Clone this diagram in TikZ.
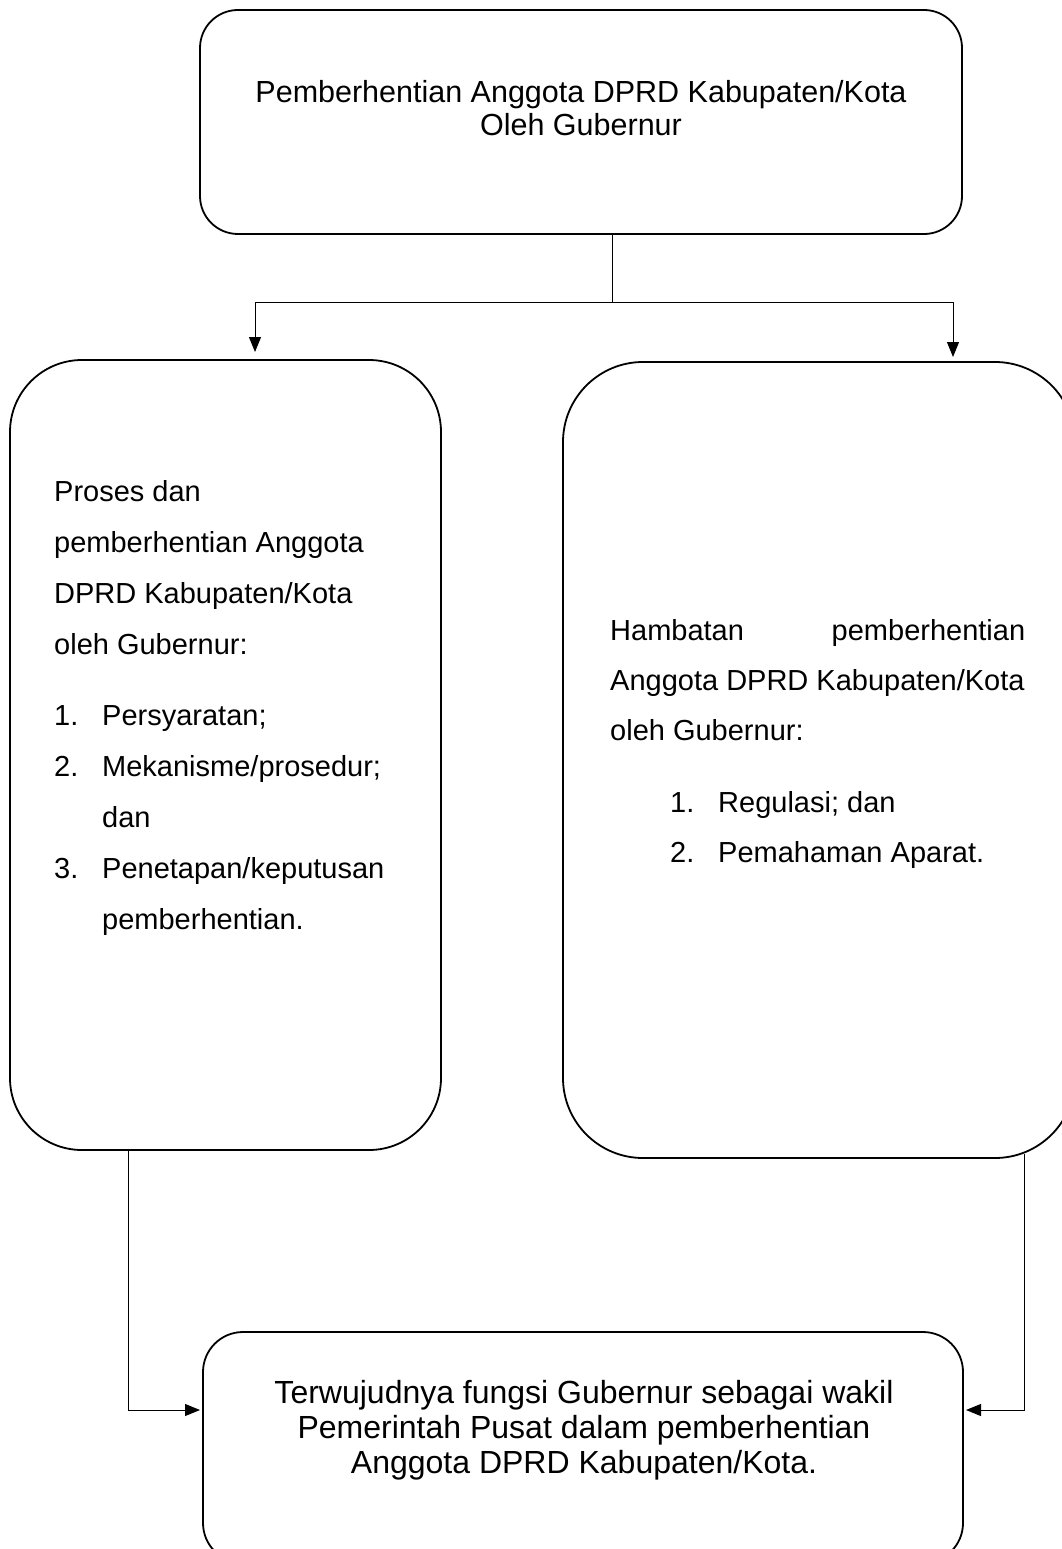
\documentclass[tikz,border=0pt]{standalone}
\usepackage{fontspec}
\setmainfont{Liberation Sans}
\usetikzlibrary{arrows.meta}

\begin{document}
\begin{tikzpicture}[x=1pt,y=-1pt,
  box/.style={draw,line width=1.8pt,rectangle,inner sep=0pt},
  conn/.style={line width=1pt},
  tip/.style={-{Triangle[length=15pt,width=12pt]}},
  txt/.style={inner sep=0pt}
]
\useasboundingbox (0,0) rectangle (1062,1549);
\clip (0,0) rectangle (1062,1549);

% The boxes
\node[box,rounded corners=38pt,minimum width=762pt,minimum height=224pt] (top) at (581,122) {};
\node[box,rounded corners=72pt,minimum width=431pt,minimum height=790pt] (left) at (225.5,755) {};
\node[box,rounded corners=80pt,minimum width=512pt,minimum height=796pt] (right) at (819,760) {};
\node[box,rounded corners=40pt,minimum width=760pt,minimum height=231pt] (res) at (583,1447.5) {};

% The texts
\node[txt,anchor=north,align=center,font=\fontsize{30.5}{33.5}\selectfont] (toptext) at (581,80.2)
  {Pemberhentian Anggota DPRD Kabupaten/Kota\\Oleh Gubernur};
\node[txt,anchor=north west,align=left,font=\fontsize{29}{51}\selectfont] (lefttext) at (54,480.2)
  {Proses dan\\pemberhentian Anggota\\DPRD Kabupaten/Kota\\oleh Gubernur:\\[20pt]
   \makebox[48pt][l]{1.}Persyaratan;\\
   \makebox[48pt][l]{2.}Mekanisme/prosedur;\\
   \hspace*{48pt}dan\\
   \makebox[48pt][l]{3.}Penetapan/keputusan\\
   \hspace*{48pt}pemberhentian.};
\node[txt,anchor=north west,align=left,font=\fontsize{29}{50}\selectfont] (righttext) at (610,619.2)
  {\makebox[415pt][s]{Hambatan\hfill pemberhentian}\\Anggota DPRD Kabupaten/Kota\\oleh Gubernur:\\[22pt]
   \hspace*{60pt}\makebox[48pt][l]{1.}Regulasi; dan\\
   \hspace*{60pt}\makebox[48pt][l]{2.}Pemahaman Aparat.};
\node[txt,anchor=north,align=center,font=\fontsize{32}{35}\selectfont] (restext) at (584,1380.1)
  {Terwujudnya fungsi Gubernur sebagai wakil\\Pemerintah Pusat dalam pemberhentian\\Anggota DPRD Kabupaten/Kota.};

% The connectors
\coordinate (split) at (612,302);
\coordinate (inLtop) at (255,352);
\coordinate (inRtop) at (953,357);
\coordinate (colL) at (128,0);
\coordinate (colR) at (1024,0);
\coordinate (inL) at (200,1410);
\coordinate (inR) at (966,1410);
\draw[conn] (top.south -| split) -- (split);
\draw[conn,tip] (split) -| (inLtop);
\draw[conn,tip] (split) -| (inRtop);
\draw[conn,tip] (left.south -| colL) |- (inL);
\draw[conn,tip] ([yshift=5pt]right.south -| colR) |- (inR);
\end{tikzpicture}
\end{document}
